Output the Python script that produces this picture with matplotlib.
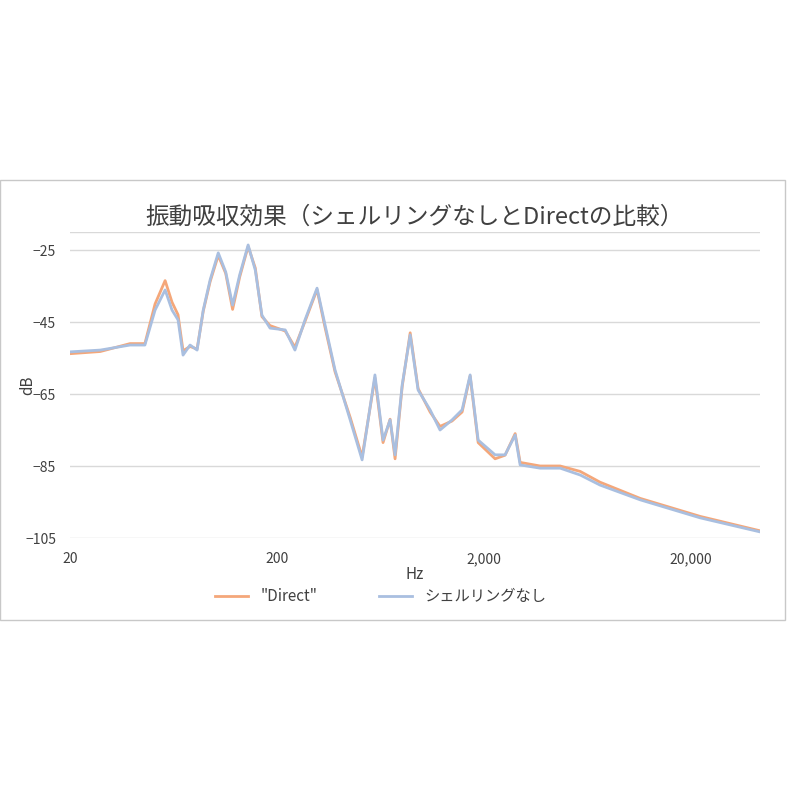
import matplotlib
matplotlib.use("Agg")
import matplotlib.pyplot as plt
from matplotlib.patches import Rectangle
from matplotlib.ticker import FixedLocator, NullLocator

plt.rcParams['font.family'] = ['Noto Sans CJK JP', 'DejaVu Sans']

# ==== data ====
freq = [20, 28, 39, 46, 51.5, 57.6, 62.2, 66.5, 70.3, 76, 82.2, 88, 95, 104, 113, 122,
        132, 145, 157, 169, 185, 219, 244, 273, 312, 341, 381, 451, 515, 594, 650, 703,
        743, 804, 879, 960, 1097, 1225, 1400, 1566, 1712, 1872, 2260, 2525, 2825, 2985,
        3730, 4660, 5820, 7260, 11350, 22100, 43000]
no_ring = [-53.3, -52.8, -51.4, -51.4, -41.7, -36.1, -41.7, -44.4, -54.2, -51.4, -52.8,
           -41.7, -33.3, -25.8, -31.1, -40.3, -31.9, -23.6, -30.6, -43.1, -46.7, -47.2,
           -52.8, -44.4, -35.6, -45.8, -58.3, -72.2, -83.3, -59.7, -77.8, -72.2, -81.9,
           -62.5, -48.6, -63.9, -69.4, -75.0, -72.2, -69.4, -59.7, -77.8, -81.9, -81.9,
           -76.4, -84.7, -85.6, -85.6, -87.5, -90.3, -94.4, -99.4, -103.3]
direct = [-53.8, -53.2, -51.0, -51.0, -40.0, -33.5, -39.5, -43.0, -53.0, -51.8, -52.5,
          -42.0, -33.8, -26.5, -31.5, -41.5, -32.5, -24.0, -30.0, -43.5, -46.0, -47.5,
          -52.0, -44.8, -36.0, -46.5, -58.8, -71.5, -82.5, -60.5, -78.5, -72.0, -83.0,
          -63.0, -48.0, -63.5, -70.0, -74.0, -72.5, -70.0, -60.0, -78.5, -83.0, -82.0,
          -76.0, -84.0, -85.0, -85.0, -86.5, -89.5, -94.0, -99.0, -103.0]

fig = plt.figure(figsize=(8, 8), dpi=100)
fig.patches.append(Rectangle((0.0, 1 - 620 / 800), 785 / 800, 440 / 800, transform=fig.transFigure,
                             fill=False, edgecolor="#c8c8c8", linewidth=1))

ax = fig.add_axes([70 / 800, 1 - 538 / 800, 690 / 800, 306 / 800])
ax.plot(freq, direct, color="#f4a77a", linewidth=2, label='"Direct"')
ax.plot(freq, no_ring, color="#a9bfe0", linewidth=2, label="シェルリングなし")

ax.set_xscale("log")
ax.set_xlim(20, 43000)
ax.set_ylim(-105, -20)
ax.yaxis.set_major_locator(FixedLocator([-105, -85, -65, -45, -25]))
ax.xaxis.set_major_locator(FixedLocator([20, 200, 2000, 20000]))
ax.xaxis.set_minor_locator(NullLocator())
ax.set_xticklabels(["20", "200", "2,000", "20,000"])
ax.grid(axis="y", color="#d9d9d9", linewidth=1)
ax.axhline(-20, color="#d9d9d9", linewidth=1)
for s in ax.spines.values():
    s.set_visible(False)
ax.tick_params(length=0, labelsize=10, colors="#404040", pad=10)

ax.set_xlabel("Hz", fontsize=11, color="#404040", labelpad=0)
ax.set_ylabel("dB", fontsize=11, color="#404040", labelpad=-8)
ax.set_title("振動吸収効果（シェルリングなしとDirectの比較）", fontsize=17, color="#404040", pad=6)

ax.legend(loc="upper center", bbox_to_anchor=(0.45, -0.12), ncol=2, frameon=False,
          fontsize=11, columnspacing=4, handlelength=2.2, labelcolor="#404040")

plt.savefig("out.png")
